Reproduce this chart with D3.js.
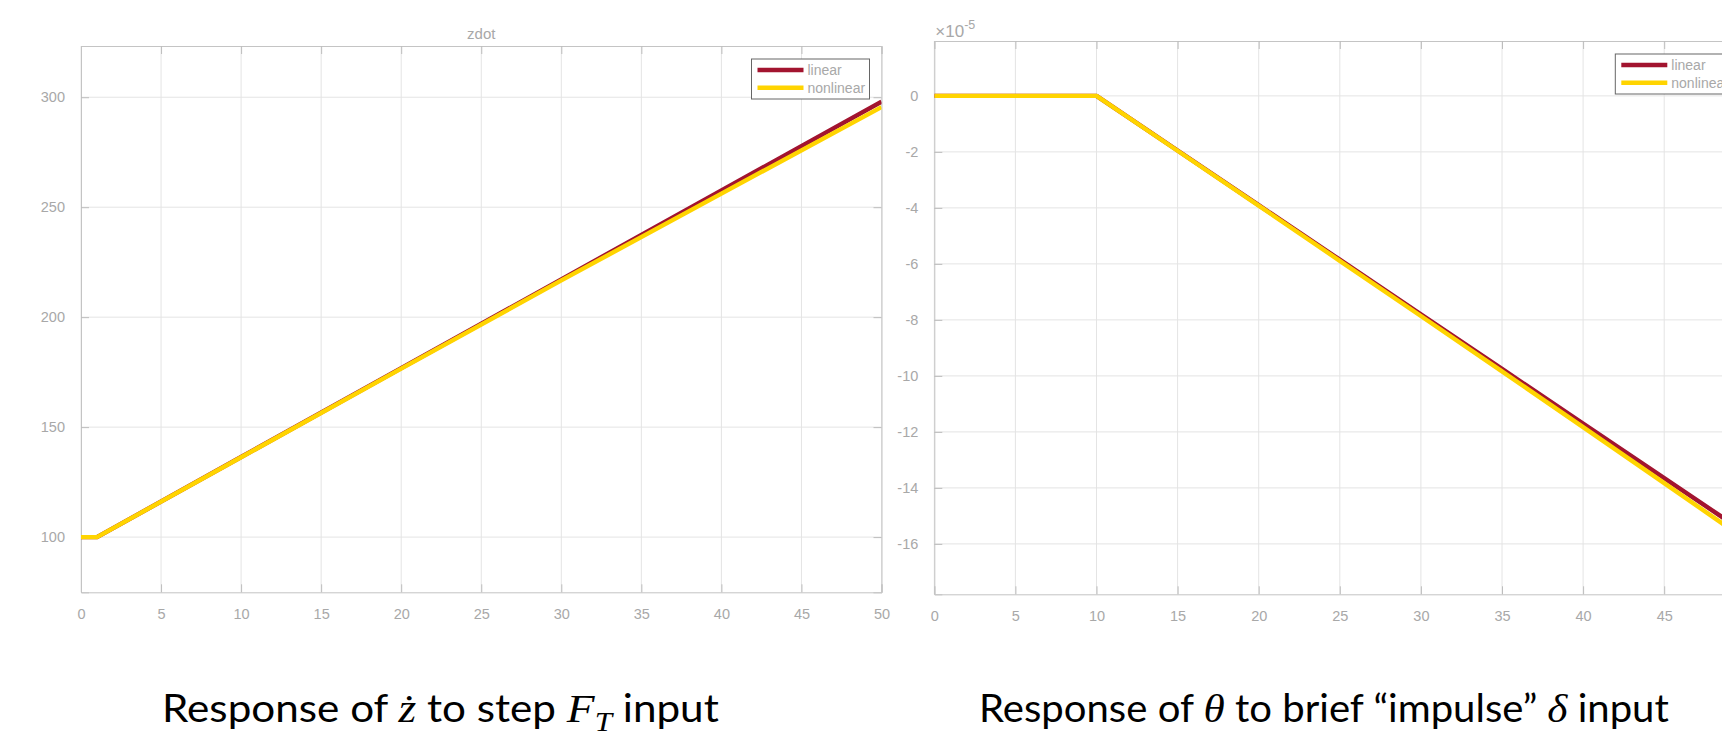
<!DOCTYPE html>
<meta charset="utf-8">
<style>
body { margin: 0; background: #fff; }
svg { display: block; }
.tick text { font: 14.5px "Liberation Sans", Arial, sans-serif; fill: #a8a8a8; }
.caption { font-family: Lato, "Open Sans", sans-serif; fill: #000; }
.math { font-family: "Liberation Serif", "DejaVu Serif", serif; font-style: italic; }
</style>
<svg width="1722" height="734"></svg>
<script src="https://cdn.jsdelivr.net/npm/d3@7"></script>
<script>

// left panel: zdot response to a step in thrust
var tLeft = [0, 1, 10, 20, 30, 40, 50];
var zdotLinear = [100, 100, 136.4, 176.8, 217.2, 257.6, 298];
var zdotNonlinear = [100, 100, 136.3, 176.6, 216.7, 256.2, 295.5];
var leftXTicks = [0, 5, 10, 15, 20, 25, 30, 35, 40, 45, 50];
var leftYTicks = [100, 150, 200, 250, 300];

// right panel: theta response to an elevator impulse (units of 1e-5)
var tRight = [0, 10, 15, 20, 25, 30, 35, 40, 45, 50];
var thetaLinear = [0, 0, -1.95, -3.9, -5.85, -7.8, -9.75, -11.7, -13.65, -15.6];
var thetaNonlinear = [0, 0, -1.96, -3.92, -5.89, -7.86, -9.84, -11.83, -13.83, -15.84];
var rightXTicks = [0, 5, 10, 15, 20, 25, 30, 35, 40, 45, 50];
var rightYTicks = [-16, -14, -12, -10, -8, -6, -4, -2, 0];

var seriesNames = ["linear", "nonlinear"];
var seriesColors = ["#a2142f", "#ffd400"];

var svg = d3.select("svg");
var fmt = function(d) { return String(d); }; // plain hyphen like matlab

function panel(o) {
  var x = d3.scaleLinear().domain(o.xDomain).range([0, o.width]);
  var y = d3.scaleLinear().domain(o.yDomain).range([o.height, 0]);

  var g = svg.append("g")
      .attr("transform", "translate(" + o.left + "," + o.top + ")");

  // grid
  g.append("g").selectAll("line").data(o.xTicks).enter().append("line")
      .attr("x1", x).attr("x2", x).attr("y1", 0).attr("y2", o.height)
      .attr("stroke", "#e4e4e4");
  g.append("g").selectAll("line").data(o.yTicks).enter().append("line")
      .attr("y1", y).attr("y2", y).attr("x1", 0).attr("x2", o.width)
      .attr("stroke", "#e4e4e4");

  // axes, ticks pointing inward on every side
  var ax = [
    [d3.axisBottom(x).tickValues(o.xTicks).tickFormat(fmt).tickSize(-8).tickPadding(16), "translate(0," + o.height + ")", true],
    [d3.axisTop(x).tickValues(o.xTicks).tickSize(-8), "translate(0,0)", false],
    [d3.axisLeft(y).tickValues(o.yTicks).tickFormat(fmt).tickSize(-8).tickPadding(16), "translate(0,0)", true],
    [d3.axisRight(y).tickValues(o.yTicks).tickSize(-8), "translate(" + o.width + ",0)", false]
  ];
  ax.forEach(function(a) {
    var s = g.append("g").attr("transform", a[1]).call(a[0]);
    s.select(".domain").attr("stroke", "#c4c4c4");
    s.selectAll(".tick line").attr("stroke", "#bdbdbd");
    if (!a[2]) s.selectAll(".tick text").remove();
  });

  var clipId = "clip" + Math.round(o.left);
  g.append("clipPath").attr("id", clipId)
    .append("rect").attr("width", o.width).attr("height", o.height);

  var line = d3.line()
      .x(function(d) { return x(d[0]); })
      .y(function(d) { return y(d[1]); });

  o.series.forEach(function(vals, i) {
    g.append("path")
        .attr("clip-path", "url(#" + clipId + ")")
        .datum(o.t.map(function(t, j) { return [t, vals[j]]; }))
        .attr("fill", "none")
        .attr("stroke", seriesColors[i])
        .attr("stroke-width", 4.4)
        .attr("stroke-linejoin", "round")
        .attr("d", line);
  });

  if (o.title) {
    g.append("text")
        .attr("x", o.width / 2).attr("y", -7)
        .attr("text-anchor", "middle")
        .style("font", "15px 'Liberation Sans', Arial, sans-serif")
        .attr("fill", "#a8a8a8")
        .text(o.title);
  }

  if (o.exponent) {
    var e = g.append("text")
        .attr("x", 1).attr("y", -4)
        .style("font", "17px 'Liberation Sans', Arial, sans-serif")
        .attr("fill", "#a8a8a8");
    e.append("tspan").text("\u00d710");
    e.append("tspan").attr("dy", -8).style("font-size", "12.5px").text(o.exponent);
  }

  // legend
  var lg = g.append("g")
      .attr("transform", "translate(" + (o.width - 130) + ",13)");
  lg.append("rect")
      .attr("width", 118).attr("height", 40)
      .attr("fill", "#fff").attr("stroke", "#666").attr("stroke-width", 1);
  seriesNames.forEach(function(name, i) {
    var yy = 11 + i * 17.7;
    lg.append("line")
        .attr("x1", 6).attr("x2", 52).attr("y1", yy).attr("y2", yy)
        .attr("stroke", seriesColors[i]).attr("stroke-width", 4.4);
    lg.append("text")
        .attr("x", 56).attr("y", yy + 5)
        .style("font", "14px 'Liberation Sans', Arial, sans-serif")
        .attr("fill", "#a8a8a8")
        .text(name);
  });
}

panel({
  left: 81, top: 46, width: 800.5, height: 546.3,
  xDomain: [0, 50], yDomain: [74.9, 323.3],
  xTicks: leftXTicks, yTicks: leftYTicks,
  t: tLeft, series: [zdotLinear, zdotNonlinear],
  title: "zdot"
});

panel({
  left: 934.3, top: 41, width: 811, height: 553.3,
  xDomain: [0, 50], yDomain: [-17.8, 1.96],
  xTicks: rightXTicks, yTicks: rightYTicks,
  t: tRight, series: [thetaLinear, thetaNonlinear],
  exponent: "-5"
});

// captions below the panels
function caption(x0, width, parts) {
  var t = svg.append("text").attr("class", "caption")
      .attr("x", x0).attr("y", 722)
      .style("font-size", "38px");
  parts.forEach(function(p) {
    var s = t.append("tspan").text(p.text);
    if (p.math) s.attr("class", "math").style("font-size", "41px");
    if (p.sub) s.attr("class", "math").style("font-size", "28px").attr("dy", 9);
    if (p.up) s.attr("dy", -9);
  });
  var w = t.node().getComputedTextLength();
  t.attr("transform", "translate(" + x0 + ",0) scale(" + (width / w) + ",1) translate(" + (-x0) + ",0)");
}

caption(162, 557, [
  {text: "Response of "},
  {text: "\u017c", math: true},
  {text: " to step "},
  {text: "F", math: true},
  {text: "T", sub: true},
  {text: " input", up: true}
]);

caption(979, 690, [
  {text: "Response of "},
  {text: "\u03b8", math: true},
  {text: " to brief \u201cimpulse\u201d "},
  {text: "\u03b4", math: true},
  {text: " input"}
]);

</script>
